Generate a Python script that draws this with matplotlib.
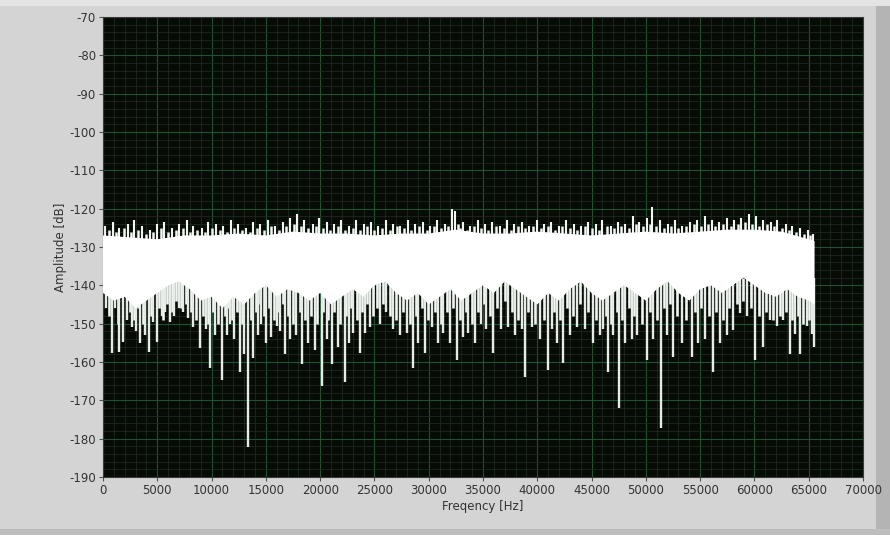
import numpy as np
import matplotlib
matplotlib.use("Agg")
import matplotlib.pyplot as plt
from matplotlib.patches import Rectangle
from matplotlib.ticker import MultipleLocator

plt.rcParams["axes.unicode_minus"] = False
plt.rcParams["font.family"] = ["Liberation Sans Narrow", "DejaVu Sans"]

# Upper edge of the solid noise band (Hz, dB)
top_edge = [
    (0, -127), (2500, -127.5), (5000, -128), (7500, -127), (10000, -127),
    (12500, -126.5), (15000, -127), (17500, -126), (20000, -126.5), (22500, -126.5),
    (25000, -127), (27500, -126.5), (30000, -126.5), (32500, -125.5), (35000, -126.5),
    (37500, -126.5), (40000, -126), (42500, -126.5), (45000, -127), (47500, -126.5),
    (50000, -126), (52500, -126.5), (55000, -126), (57500, -125.5), (60000, -125.5),
    (62500, -126), (65000, -128), (65536, -128.5),
]

# Lower edge of the solid noise band (Hz, dB)
bottom_edge = [
    (0, -142), (1000, -144), (2000, -143), (3000, -146), (4000, -144), (5000, -142),
    (6000, -140), (7000, -139), (8000, -141), (9000, -144), (10000, -143), (11000, -146),
    (12000, -143), (13000, -145), (14000, -142), (15000, -140), (16000, -143), (17000, -141),
    (18000, -142), (19000, -144), (20000, -142), (21000, -145), (22000, -143), (23000, -141),
    (24000, -143), (25000, -140), (26000, -139), (27000, -142), (28000, -144), (29000, -142),
    (30000, -145), (31000, -143), (32000, -141), (33000, -144), (34000, -142), (35000, -140),
    (36000, -142), (37000, -139), (38000, -141), (39000, -143), (40000, -145), (41000, -142),
    (42000, -144), (43000, -141), (44000, -139), (45000, -142), (46000, -144), (47000, -142),
    (48000, -140), (49000, -142), (50000, -144), (51000, -141), (52000, -139), (53000, -142),
    (54000, -144), (55000, -141), (56000, -140), (57000, -142), (58000, -140), (59000, -138),
    (60000, -140), (61000, -142), (62000, -143), (63000, -141), (64000, -143), (65000, -144),
    (65536, -145),
]

# Upward peaks above the band (Hz, dB)
up_peaks = [
    (200, -124.5), (900, -123.5), (1500, -125), (2300, -124), (2900, -123), (3600, -124.5),
    (4300, -125.5), (5000, -124), (5600, -123.5), (6400, -125), (7000, -124), (7700, -123),
    (8300, -124.5), (9100, -125), (9700, -123.5), (10400, -124), (11100, -124.5), (11800, -123),
    (12400, -124), (13200, -125), (13800, -123.5), (14500, -124), (15200, -123), (15800, -124.5),
    (16600, -123.5), (17200, -122.5), (17900, -121.5), (18500, -123), (19300, -124), (19900, -122.5),
    (20600, -123.5), (21300, -124), (21900, -123), (22700, -124.5), (23300, -123), (24000, -124),
    (24700, -123.5), (25300, -124.5), (26100, -123), (26700, -124), (27400, -124.5), (28100, -123),
    (28700, -124), (29500, -123.5), (30100, -124.5), (30800, -123), (31500, -124), (32100, -120),
    (32400, -120.5), (33200, -123.5), (33800, -124.5), (34500, -123), (35200, -124), (35800, -123.5),
    (36600, -124.5), (37200, -123), (37900, -124), (38600, -123.5), (39200, -124.5), (40000, -123),
    (40600, -124), (41300, -123.5), (42000, -124.5), (42600, -123), (43400, -124), (44000, -124.5),
    (44700, -123.5), (45400, -124), (46000, -123), (46800, -124.5), (47400, -123.5), (48100, -124),
    (48800, -122), (49400, -123.5), (50100, -122.5), (50600, -119.5), (51300, -123), (52000, -124),
    (52700, -123), (53300, -124.5), (54100, -123.5), (54700, -123), (55400, -122), (56100, -123),
    (56700, -123.5), (57500, -122.5), (58100, -123), (58800, -122.5), (59500, -121.5), (60100, -122),
    (60800, -123), (61500, -123.5), (62100, -123), (62900, -124), (63500, -124.5), (64200, -125),
    (64900, -125.5), (65400, -126.5),
]

# Smaller peaks between the main ones (Hz, dB)
small_peaks = [
    (550, -125.5), (1200, -126), (1900, -125), (2600, -126), (3250, -125.5), (3950, -126.5),
    (4650, -126), (5300, -125), (6000, -126), (6700, -125.5), (7350, -125), (8000, -126),
    (8700, -125.5), (9400, -126), (10050, -125), (10750, -125.5), (11450, -126), (12100, -125),
    (12800, -125.5), (13500, -126), (14150, -125), (14850, -125.5), (15500, -124.5), (16200, -125.5),
    (16900, -124.5), (17550, -124), (18200, -124.5), (18900, -125), (19600, -124.5), (20250, -125),
    (20950, -125.5), (21600, -124.5), (22300, -125.5), (23000, -125), (23650, -125.5), (24350, -124.5),
    (25000, -125.5), (25700, -125), (26400, -125.5), (27050, -124.5), (27750, -125), (28400, -125.5),
    (29100, -124.5), (29800, -125.5), (30450, -124.5), (31150, -125), (31800, -124.5), (32700, -124),
    (32900, -125), (33500, -125.5), (34150, -124.5), (34850, -125), (35500, -125.5), (36200, -124.5),
    (36900, -125), (37550, -125.5), (38250, -124.5), (38900, -125), (39600, -124.5), (40300, -125),
    (40950, -124.5), (41650, -125.5), (42300, -124.5), (43000, -125), (43700, -125.5), (44350, -124.5),
    (45050, -125), (45700, -125.5), (46400, -124.5), (47100, -125), (47750, -124.5), (48450, -125),
    (49100, -124), (49750, -124.5), (50350, -124), (50950, -124.5), (51650, -125), (52350, -124.5),
    (53000, -125), (53700, -124.5), (54400, -124), (55050, -124.5), (55750, -124), (56400, -124.5),
    (57100, -124), (57800, -124.5), (58450, -124), (59150, -123.5), (59800, -124), (60450, -124.5),
    (61150, -124), (61800, -124.5), (62500, -125), (63200, -125.5), (63850, -126), (64550, -126.5),
    (65150, -127),
]

# Main downward dips below the band (Hz, dB)
dips = [
    (300, -146), (800, -157.7), (1150, -146), (1500, -157.3), (1810, -154.7), (2200, -149),
    (2640, -150.8), (3040, -152), (3410, -155.1), (3850, -153), (4270, -157.3), (4600, -149.5),
    (4940, -154.7), (5400, -148), (5700, -147), (6160, -149.5), (6500, -148), (7000, -146),
    (7400, -147), (7860, -148.5), (8320, -150.8), (8930, -156.4), (9480, -151.5), (9860, -161.6),
    (10300, -153), (10930, -164.7), (11400, -153), (11700, -150), (12100, -154), (12620, -162.5),
    (13000, -158), (13385, -182.1), (13840, -159), (14300, -153), (14600, -150), (15050, -155),
    (15500, -153.5), (16000, -150.5), (16300, -152), (16760, -157.8), (17200, -154), (17800, -153),
    (18360, -160.5), (18900, -155), (19500, -157), (20170, -166.2), (20600, -154), (21060, -160.5),
    (21600, -156), (22290, -165.2), (22700, -155), (23000, -152.5), (23670, -157.7), (24130, -152.5),
    (24600, -151), (25500, -150), (26100, -147), (26700, -151.5), (27350, -153), (27970, -152.5),
    (28520, -161.6), (29040, -155), (29660, -157.7), (30270, -150.8), (30900, -155), (31350, -152.5),
    (31960, -155.1), (32570, -159.4), (33190, -153.5), (33650, -152.5), (34260, -155), (34800, -150),
    (35300, -151.5), (35950, -157.7), (36700, -151.5), (37330, -150.8), (37950, -153), (38560, -151.5),
    (38870, -163.8), (39480, -150.8), (40250, -154), (40950, -162), (41320, -151.5), (41780, -155),
    (42400, -160.3), (43000, -153), (43620, -150.8), (44390, -151.5), (45150, -155), (45770, -153),
    (46080, -151.5), (46540, -162.5), (47000, -153), (47550, -172), (48070, -155), (48690, -154),
    (49150, -153), (50070, -159.4), (50680, -154), (51390, -177.1), (51910, -153), (52520, -158.6),
    (53290, -155), (54210, -158.6), (54830, -155), (55440, -154), (56210, -162.5), (56820, -155),
    (57430, -153), (58060, -151.7), (58670, -147.3), (59290, -148), (60050, -159.5), (60760, -156),
    (61430, -149), (62050, -150.5), (62660, -149), (63280, -157.8), (63740, -152.6), (64200, -157.8),
    (64820, -150.5), (65280, -152.6), (65500, -156),
]

# Shorter dips between the main ones (Hz, dB)
small_dips = [
    (550, -148), (1350, -150), (2450, -147), (2850, -149), (3250, -146), (3650, -150),
    (4450, -148), (5150, -146), (5550, -149), (5900, -145), (6350, -147), (6750, -144),
    (7200, -146), (7650, -145), (8100, -147), (8600, -149), (9200, -148), (9650, -150),
    (10100, -147), (10600, -150), (11200, -148), (11550, -146), (11900, -149), (12350, -147),
    (12800, -150), (13600, -149), (14100, -147), (14450, -145), (14800, -148), (15250, -146),
    (15750, -149), (16150, -147), (16550, -145), (17000, -148), (17500, -150), (18100, -147),
    (18600, -149), (19200, -148), (19750, -150), (20250, -147), (20750, -149), (21300, -147),
    (21850, -150), (22350, -148), (22800, -146), (23350, -149), (23900, -147), (24350, -145),
    (24850, -148), (25200, -146), (25800, -145), (26400, -148), (27000, -149), (27650, -147),
    (28250, -150), (28800, -148), (29350, -146), (29950, -149), (30600, -147), (31150, -150),
    (31650, -147), (32250, -146), (32850, -149), (33450, -147), (33950, -150), (34550, -147),
    (35050, -145), (35600, -148), (36300, -146), (37000, -144), (37650, -147), (38250, -149),
    (39150, -147), (39800, -150), (40600, -149), (41550, -147), (42100, -149), (42700, -146),
    (43300, -148), (43950, -145), (44700, -147), (45450, -149), (46300, -148), (46800, -150),
    (47300, -147), (47800, -149), (48400, -146), (48900, -148), (49600, -150), (50400, -147),
    (51050, -149), (51650, -146), (52200, -145), (52900, -148), (53700, -149), (54500, -147),
    (55100, -146), (55800, -148), (56500, -147), (57100, -149), (57700, -146), (58350, -145),
    (58950, -144), (59650, -146), (60400, -148), (61100, -147), (61750, -149), (62350, -148),
    (62950, -147), (63500, -149), (64000, -148), (64500, -150), (65050, -149), (65400, -151),
]

x_ticks = np.arange(0, 70001, 5000)
y_ticks = np.arange(-190, -69, 10)

fig = plt.figure(figsize=(8.9, 5.35), dpi=100)
fig.patch.set_facecolor("#d4d4d4")
# 3D panel edges
fig.patches.extend([
    Rectangle((0.984, 0), 0.016, 1, transform=fig.transFigure,
              facecolor="#b4b4b4", edgecolor="none", zorder=-5),
    Rectangle((0, 0), 1, 0.012, transform=fig.transFigure,
              facecolor="#bdbdbd", edgecolor="none", zorder=-5),
    Rectangle((0, 0.988), 1, 0.012, transform=fig.transFigure,
              facecolor="#e4e4e4", edgecolor="none", zorder=-5),
])

ax = fig.add_axes([0.1157, 0.1084, 0.854, 0.86])
ax.set_facecolor("#060b06")

spike_col = "#f2f5f2"
up_hz, up_db = zip(*up_peaks)
ax.vlines(up_hz, -131, up_db, color=spike_col, lw=1.5, zorder=2.5)
sp_hz, sp_db = zip(*small_peaks)
ax.vlines(sp_hz, -131, sp_db, color=spike_col, lw=1.8, zorder=2.5)
sd_hz, sd_db = zip(*small_dips)
ax.vlines(sd_hz, sd_db, -138, color=spike_col, lw=1.9, zorder=2.5)
d_hz, d_db = zip(*dips)
ax.vlines(d_hz, d_db, -138, color="#e6ebe6", lw=1.7, zorder=2.6)

top_hz, top_db = zip(*top_edge)
bot_hz, bot_db = zip(*bottom_edge)
ax.fill(list(top_hz) + list(bot_hz[::-1]), list(top_db) + list(bot_db[::-1]),
        color="white", lw=0, zorder=3)

ax.set_xlim(0, 70000)
ax.set_ylim(-190, -70)
ax.set_xticks(x_ticks)
ax.set_yticks(y_ticks)
ax.xaxis.set_minor_locator(MultipleLocator(1000))
ax.yaxis.set_minor_locator(MultipleLocator(2))
ax.grid(which="major", color="#1f5230", lw=0.8, zorder=1)
ax.grid(which="minor", color="#1c2a1e", lw=0.6, zorder=1)
ax.set_axisbelow(True)

ax.tick_params(which="major", direction="out", length=3, width=0.8, color="#555555",
               labelsize=8.5, labelcolor="#333333", pad=2)
ax.tick_params(which="minor", length=0)
for s in ax.spines.values():
    s.set_color("#3a3a3a")
    s.set_linewidth(0.8)

ax.set_xlabel("Freqency [Hz]", fontsize=8.5, color="#333333", labelpad=2)
ax.set_ylabel("Amplitude [dB]", fontsize=8.5, color="#333333", labelpad=2)

fig.savefig("out.png", dpi=100, facecolor=fig.get_facecolor())
